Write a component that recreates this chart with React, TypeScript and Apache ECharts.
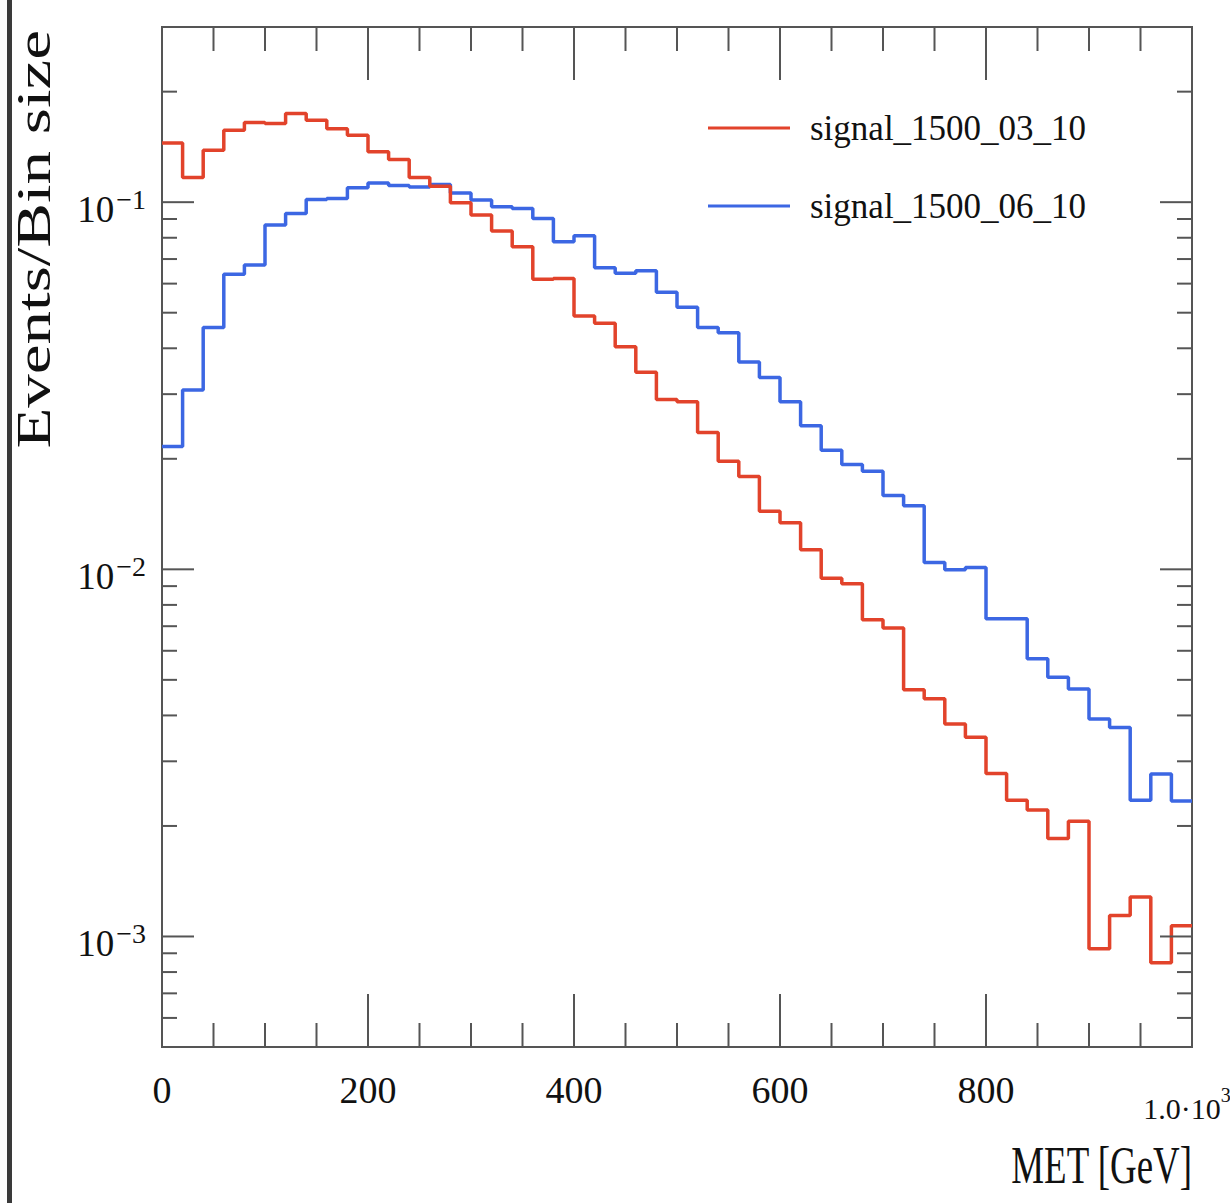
import React, { useEffect, useRef } from "react";
import * as echarts from "echarts";

// MET distributions, normalised per bin (20 GeV bins from 0 to 1000 GeV)
const BIN_WIDTH = 20;
const seriesNames = ["signal_1500_03_10", "signal_1500_06_10"];

const signal03 = [
  0.145, 0.1168, 0.1385, 0.157, 0.1648, 0.1637, 0.1743, 0.1671, 0.1586, 0.1521,
  0.1371, 0.1307, 0.1168, 0.1105, 0.0996, 0.0922, 0.0835, 0.0756, 0.0617, 0.062,
  0.049, 0.0468, 0.0404, 0.0344, 0.029, 0.0286, 0.0236, 0.0197, 0.0179, 0.0144,
  0.0134, 0.0113, 0.00946, 0.00913, 0.00729, 0.00692, 0.0047, 0.00444, 0.00379, 0.00349,
  0.00278, 0.00235, 0.00221, 0.00185, 0.00206, 0.000926, 0.00114, 0.00128, 0.000848, 0.00107,
];

const signal06 = [
  0.0216, 0.0308, 0.0456, 0.0636, 0.0674, 0.0866, 0.0932, 0.1017, 0.1023, 0.1094,
  0.1128, 0.111, 0.11, 0.1117, 0.106, 0.1013, 0.0972, 0.0961, 0.0903, 0.078,
  0.081, 0.0663, 0.064, 0.065, 0.0568, 0.0517, 0.0456, 0.0441, 0.0367, 0.0333,
  0.0286, 0.0246, 0.0211, 0.0193, 0.0185, 0.0159, 0.0149, 0.01043, 0.00997, 0.01011,
  0.00733, 0.00733, 0.00571, 0.00508, 0.00472, 0.00391, 0.00371, 0.00235, 0.00277, 0.00234,
];

// axis ranges and tick layout
const X_MIN = 0;
const X_MAX = 1000;
const X_LABEL_STEP = 200;
const X_TICK_STEP = 50;
const Y_MIN = 0.0005;
const Y_MAX = 0.3;
const Y_DECADES = [-4, -3, -2, -1];
const Y_MANTISSAS = [1, 2, 3, 4, 5, 6, 7, 8, 9];

const RED = "#e2432b";
const BLUE = "#3c67e3";
const FRAME = "#555555";
const SERIF = "'Liberation Serif', 'DejaVu Serif', serif";

// histogram outline: one point per bin low edge plus the last upper edge
function toSteps(values: number[]): [number, number][] {
  const pts: [number, number][] = values.map((v, i) => [i * BIN_WIDTH, v]);
  pts.push([values.length * BIN_WIDTH, values[values.length - 1]]);
  return pts;
}

function yTickData(): [number, number, number][] {
  const out: [number, number, number][] = [];
  for (const d of Y_DECADES) {
    for (const m of Y_MANTISSAS) {
      const v = m * Math.pow(10, d);
      if (v > Y_MIN * 1.0001 && v < Y_MAX * 0.9999) out.push([0, v, m === 1 ? 32 : 15]);
    }
  }
  return out;
}

function xTickData(): [number, number, number][] {
  const out: [number, number, number][] = [];
  for (let x = X_MIN + X_TICK_STEP; x < X_MAX; x += X_TICK_STEP) {
    out.push([x, 0.01, x % X_LABEL_STEP === 0 ? 53 : 24]);
  }
  return out;
}

const tickStyle = { stroke: FRAME, lineWidth: 2 };

export default function App() {
  const ref = useRef<HTMLDivElement>(null);

  useEffect(() => {
    if (!ref.current) return;
    const chart = echarts.init(ref.current, null, { renderer: "svg" });

    const option = {
      animation: false,
      backgroundColor: "#ffffff",
      grid: {
        left: 162,
        top: 27,
        width: 1030,
        height: 1020,
        outerBoundsMode: "none",
        containLabel: false,
        show: true,
        borderColor: FRAME,
        borderWidth: 2,
        backgroundColor: "transparent",
      },
      legend: {
        data: seriesNames,
        orient: "vertical",
        left: 708,
        top: 108,
        padding: 0,
        icon: "rect",
        itemWidth: 82,
        itemHeight: 3,
        itemGap: 38,
        textStyle: {
          fontFamily: SERIF,
          fontSize: 35,
          color: "#111",
          lineHeight: 40,
          padding: [0, 0, 0, 15],
        },
      },
      xAxis: {
        type: "value",
        min: X_MIN,
        max: X_MAX,
        interval: X_LABEL_STEP,
        axisLine: { show: false },
        axisTick: { show: false },
        splitLine: { show: false },
        axisLabel: {
          margin: 24,
          fontFamily: SERIF,
          fontSize: 38,
          color: "#111",
          formatter: (v: number) => (v === 1000 ? "{m|1.0·10}{e|3}" : String(v)),
          rich: {
            m: { fontFamily: SERIF, fontSize: 30, color: "#111", padding: [22, 0, 0, 0] },
            e: { fontFamily: SERIF, fontSize: 20, color: "#111", padding: [0, 10, 4, 0] },
          },
        },
      },
      yAxis: {
        type: "log",
        logBase: 10,
        min: Y_MIN,
        max: Y_MAX,
        axisLine: { show: false },
        axisTick: { show: false },
        splitLine: { show: false },
        minorTick: { show: false },
        axisLabel: {
          margin: 16,
          formatter: (v: number) => {
            const e = Math.log10(v);
            if (Math.abs(e - Math.round(e)) > 1e-6) return "";
            const p = Math.round(e);
            return "{b|10}{s|" + (p < 0 ? "\u2212" + -p : String(p)) + "}";
          },
          rich: {
            b: { fontFamily: SERIF, fontSize: 37, color: "#111", lineHeight: 58, padding: [14, 0, 0, 0] },
            s: { fontFamily: SERIF, fontSize: 28, color: "#111", verticalAlign: "top", padding: [12, 0, 0, 2] },
          },
        },
      },
      graphic: [
        { type: "rect", left: 7, top: 0, shape: { width: 5, height: 1203 }, style: { fill: "#3a3a3a" } },
        {
          type: "text",
          x: 34,
          y: 30,
          rotation: Math.PI / 2,
          scaleY: 0.72,
          style: {
            text: "Events/Bin size",
            fontFamily: SERIF,
            fontSize: 67,
            fill: "#111",
            align: "right",
            verticalAlign: "middle",
          },
        },
        {
          type: "text",
          x: 1192,
          y: 1166,
          scaleX: 0.71,
          style: {
            text: "MET [GeV]",
            fontFamily: SERIF,
            fontSize: 52,
            fill: "#111",
            align: "right",
            verticalAlign: "middle",
          },
        },
      ],
      series: [
        {
          name: seriesNames[1],
          type: "line",
          step: "end",
          symbol: "none",
          data: toSteps(signal06),
          color: BLUE,
          lineStyle: { color: BLUE, width: 3.5 },
          z: 3,
        },
        {
          name: seriesNames[0],
          type: "line",
          step: "end",
          symbol: "none",
          data: toSteps(signal03),
          color: RED,
          lineStyle: { color: RED, width: 3.5 },
          z: 4,
        },
        {
          name: "yTicks",
          type: "custom",
          silent: true,
          encode: { x: 0, y: 1 },
          data: yTickData(),
          renderItem: (params: any, api: any) => {
            const cs = params.coordSys;
            const y = api.coord([0, api.value(1)])[1];
            const len = api.value(2);
            return {
              type: "group",
              children: [
                { type: "line", shape: { x1: cs.x, y1: y, x2: cs.x + len, y2: y }, style: tickStyle },
                {
                  type: "line",
                  shape: { x1: cs.x + cs.width, y1: y, x2: cs.x + cs.width - len, y2: y },
                  style: tickStyle,
                },
              ],
            };
          },
          z: 5,
        },
        {
          name: "xTicks",
          type: "custom",
          silent: true,
          encode: { x: 0, y: 1 },
          data: xTickData(),
          renderItem: (params: any, api: any) => {
            const cs = params.coordSys;
            const x = api.coord([api.value(0), 0.01])[0];
            const len = api.value(2);
            return {
              type: "group",
              children: [
                {
                  type: "line",
                  shape: { x1: x, y1: cs.y + cs.height, x2: x, y2: cs.y + cs.height - len },
                  style: tickStyle,
                },
                { type: "line", shape: { x1: x, y1: cs.y, x2: x, y2: cs.y + len }, style: tickStyle },
              ],
            };
          },
          z: 5,
        },
      ],
    };

    chart.setOption(option as any);
    return () => chart.dispose();
  }, []);

  return (
    <div
      ref={ref}
      style={{ position: "absolute", left: 0, top: 0, width: 1230, height: 1203, background: "#fff" }}
    />
  );
}
